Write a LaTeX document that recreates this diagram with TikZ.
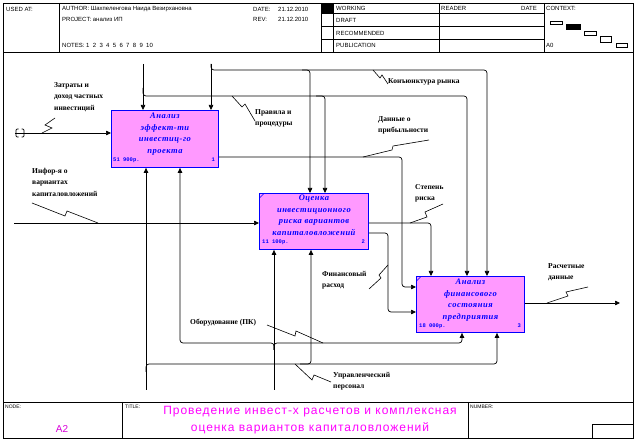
\documentclass[tikz,border=0pt]{standalone}
\usepackage{fontspec}
\setmainfont{Liberation Serif}
\newfontfamily\hdrfont{Liberation Sans}
\newfontfamily\titlefont[LetterSpace=8]{Liberation Sans}
\newfontfamily\costfont{Liberation Mono}
\newfontfamily\boxfont[LetterSpace=6]{Liberation Serif}
\usetikzlibrary{arrows.meta,calc}
\definecolor{boxfill}{RGB}{255,153,255}
\definecolor{boxblue}{RGB}{0,0,255}
\definecolor{titlemag}{RGB}{255,0,255}
\begin{document}
\begin{tikzpicture}[x=1pt,y=-1pt,
  frame/.style={draw=black,line width=0.8pt},
  thin/.style={draw=black,line width=0.7pt},
  procbox/.style={draw=boxblue,fill=boxfill,line width=0.9pt,minimum width=107pt,minimum height=57pt,inner sep=0pt,anchor=north west},
  boxtitle/.style={text=boxblue,font=\boxfont\bfseries\itshape\fontsize{8.5}{11.4}\selectfont,align=center,anchor=north,inner sep=0pt},
  cost/.style={text=boxblue,font=\costfont\bfseries\fontsize{5.5}{6}\selectfont,inner sep=0pt},
  conn/.style={draw=black,line width=0.7pt,rounded corners=3pt},
  arr/.style={conn,-{Triangle[length=5pt,width=4.5pt]}},
  lbl/.style={font=\bfseries\fontsize{7.5}{11.5}\selectfont,align=left,anchor=north west,inner sep=0pt},
  squig/.style={draw=black,line width=0.6pt},
  hdr/.style={font=\hdrfont\fontsize{6}{7}\selectfont,anchor=west,inner sep=0pt},
  ftr/.style={font=\hdrfont\fontsize{5}{6}\selectfont,anchor=west,inner sep=0pt},
  marker/.style={draw=boxblue,line width=0.6pt}
]
\useasboundingbox (0,0) rectangle (638,443);
\fill[white] (0,0) rectangle (638,443);
% ---------- frame ----------
\draw[frame] (3,3) rectangle (633,438);
\draw[frame] (3,52) -- (633,52);
\draw[frame] (3,402) -- (633,402);
% header grid
\draw[thin] (59,3) -- (59,52);
\draw[thin] (321,3) -- (321,52);
\draw[thin] (333,3) -- (333,52);
\draw[thin] (439,3) -- (439,52);
\draw[thin] (544,3) -- (544,52);
\draw[thin] (321,13) -- (544,13);
\draw[thin] (321,26) -- (544,26);
\draw[thin] (321,39) -- (544,39);
\fill[black] (321,3) rectangle (333,13);
% header texts
\node[hdr] (hused) at (6,9) {USED AT:};
\node[hdr] (hauth) at (62,9) {AUTHOR: Шахпеленгова Наида Везирхановна};
\node[hdr] (hproj) at (62,19) {PROJECT: анализ ИП};
\node[hdr] (hnotes) at (62,45) {NOTES: 1\ \ 2\ \ 3\ \ 4\ \ 5\ \ 6\ \ 7\ \ 8\ \ 9\ \ 10};
\node[hdr] (hdate) at (253,9) {DATE:};
\node[hdr] (hdatev) at (278,9) {21.12.2010};
\node[hdr] (hrev) at (253,19) {REV:};
\node[hdr] (hrevv) at (278,19) {21.12.2010};
\node[hdr] (hwork) at (336,8.5) {WORKING};
\node[hdr] (hdraft) at (336,20) {DRAFT};
\node[hdr] (hrec) at (336,33) {RECOMMENDED};
\node[hdr] (hpub) at (336,45) {PUBLICATION};
\node[hdr] (hread) at (441,8.5) {READER};
\node[hdr,anchor=east] (hrdate) at (537,8.5) {DATE};
\node[hdr] (hctx) at (546,8.5) {CONTEXT:};
\node[hdr] (ha0) at (546,45) {A0};
% context boxes
\draw[thin] (550,21) rectangle (562,24.5);
\fill[black] (566,24) rectangle (581,30);
\draw[thin] (584,31) rectangle (596,35);
\draw[thin] (600,36) rectangle (611,42);
\draw[thin] (616,43) rectangle (627,47);
% footer
\draw[thin] (122,402) -- (122,438);
\draw[thin] (468,402) -- (468,438);
\draw[thin] (592,424) rectangle (633,438);
\node[ftr] (fnode) at (5,407) {NODE:};
\node[ftr] (ftitle) at (125,407) {TITLE:};
\node[ftr] (fnum) at (470,407) {NUMBER:};
\node[font=\hdrfont\fontsize{10}{12}\selectfont,text=titlemag!85!black,inner sep=0pt] (fa2) at (62,429) {A2};
\node[font=\titlefont\fontsize{12}{17}\selectfont,text=titlemag,align=center,inner sep=0pt] (ftext) at (310,420.5)
  {Проведение инвест-х расчетов и комплексная\\оценка вариантов капиталовложений};
% ---------- boxes ----------
\node[procbox] (b1) at (111,110) {};
\node[procbox,minimum width=109pt,minimum height=56pt] (b2) at (259,193) {};
\node[procbox,minimum width=108pt,minimum height=56pt] (b3) at (416,276) {};
\node[boxtitle] (b1t) at ($(b1.north)+(0,3)$) {Анализ\\эффект-ти\\инвестиц-го\\проекта};
\node[boxtitle] (b2t) at ($(b2.north)+(0,2)$) {Оценка\\инвестиционного\\риска вариантов\\капиталовложений};
\node[boxtitle] (b3t) at ($(b3.north)+(0,3)$) {Анализ\\финансового\\состояния\\предприятия};
\node[cost,anchor=west] (b1c) at (113,160) {51 900р.};
\node[cost,anchor=east] (b1n) at (215,160) {1};
\node[cost,anchor=west] (b2c) at (262,242) {11 100р.};
\node[cost,anchor=east] (b2n) at (365,242) {2};
\node[cost,anchor=west] (b3c) at (419,326) {18 000р.};
\node[cost,anchor=east] (b3n) at (521,326) {3};
\draw[marker] (259.5,198) -- (264,193.5);
\draw[marker] (416.5,281) -- (421,276.5);
% ---------- coordinates ----------
\coordinate (in1) at (15,133);
\coordinate (in2) at (14,223);
\coordinate (c1) at (143,64);
\coordinate (c2) at (211,64);
\coordinate (m1) at (274,390);
\coordinate (m2) at (146,390);
\coordinate (out3) at (620,303);
% ---------- inputs ----------
\draw[arr] (in1) -- (in1 -| b1.west);
\draw[thin,rounded corners=1.2pt] (18.5,129) -- (16,129) -- (16,137) -- (18.5,137);
\draw[thin,rounded corners=1.2pt] (21.5,129) -- (24,129) -- (24,137) -- (21.5,137);
\draw[arr] (in2) -- (in2 -| b2.west);
% ---------- controls ----------
\draw[arr] (c1) -- (c1 |- b1.north);
\draw[arr] (143,88) -- (143,96) -- (467,96) -- (467,0 |- b3.north);
\draw[arr] (316,96) -- (325,96) -- (325,0 |- b2.north);
\draw[arr] (c2) -- (c2 |- b1.north);
\draw[arr] (211,64) -- (211,70) -- (487,70) -- (487,0 |- b3.north);
\draw[arr] (302,70) -- (310,70) -- (310,0 |- b2.north);
% ---------- outputs ----------
\draw[arr] (b1.east |- 0,157) -- (402,157) -- (402,287) -- (b3.west |- 0,287);
\draw[arr] (b2.east |- 0,223) -- (431,223) -- (431,0 |- b3.north);
\draw[arr] (b2.east |- 0,233) -- (388,233) -- (388,312) -- (b3.west |- 0,312);
\draw[arr] (b3.east |- out3) -- (out3);
% ---------- mechanisms ----------
\draw[arr] (m1) -- (m1 |- b2.south);
\draw[arr] (274,350) -- (274,343) -- (180,343) -- (180,0 |- b1.south);
\draw[arr] (274,350) -- (274,343) -- (462,343) -- (462,0 |- b3.south);
\draw[arr] (m2) -- (m2 |- b1.south);
\draw[arr] (146,372) -- (146,364) -- (497,364) -- (497,0 |- b3.south);
\draw[arr] (300,364) -- (311,364) -- (311,0 |- b2.south);
% ---------- labels ----------
\node[lbl] (l1) at (54,82) {Затраты и\\доход частных\\инвестиций};
\draw[squig] (55,118) -- (45,125) -- (52,128) -- (42,133);
\node[lbl] (l2) at (32,168) {Инфор-я о\\вариантах\\капиталовложений};
\draw[squig] (32,203) -- (65,216) -- (67,211) -- (98,223);
\node[lbl] (l3) at (255,109) {Правила и\\процедуры};
\draw[squig] (232,96) -- (242,107) -- (245,104) -- (255,121);
\node[lbl] (l4) at (388,78) {Конъюнктура рынка};
\draw[squig] (373,70) -- (380,78) -- (382,75) -- (388,84);
\node[lbl] (l5) at (378,116) {Данные о\\прибыльности};
\draw[squig] (363,157) -- (392,150) -- (393,146) -- (429,140);
\node[lbl] (l6) at (415,184) {Степень\\риска};
\draw[squig] (410,223) -- (427,217) -- (425,212) -- (443,204);
\node[lbl] (l7) at (322,271) {Финансовый\\расход};
\draw[squig] (369,289) -- (381,278) -- (379,275) -- (388,265);
\node[lbl] (l8) at (548,263) {Расчетные\\данные};
\draw[squig] (547,303) -- (568,296) -- (566,292) -- (588,287);
\node[lbl] (l9) at (190,319) {Оборудование (ПК)};
\draw[squig] (267,325) -- (295,336) -- (296,331) -- (323,343);
\node[lbl] (l10) at (333,372) {Управленческий\\персонал};
\draw[squig] (295,364) -- (312,380) -- (314,375) -- (331,382);
\end{tikzpicture}
\end{document}
